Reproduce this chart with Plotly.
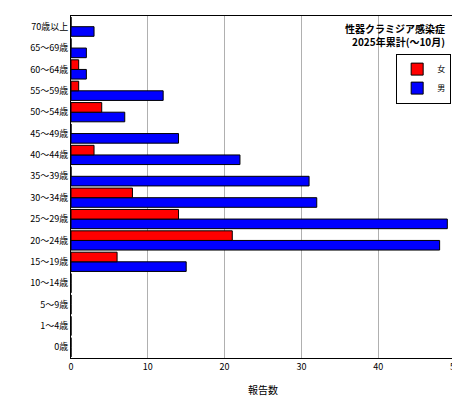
import plotly.graph_objects as go

categories = ["0歳","1～4歳","5～9歳","10～14歳","15～19歳","20～24歳","25～29歳","30～34歳",
              "35～39歳","40～44歳","45～49歳","50～54歳","55～59歳","60～64歳","65～69歳","70歳以上"]
female = [0,0,0,0,6,21,14,8,0,3,0,4,1,1,0,0]
male   = [0,0,0,0,15,48,49,32,31,22,14,7,12,2,2,3]

fig = go.Figure()
fig.add_trace(go.Bar(y=categories, x=male, orientation="h", name="男",
                     marker=dict(color="#0000ff", line=dict(color="black", width=1))))
fig.add_trace(go.Bar(y=categories, x=female, orientation="h", name="女",
                     marker=dict(color="#ff0000", line=dict(color="black", width=1))))
fig.update_layout(
    width=460, height=400, barmode="group", bargap=0.1, bargroupgap=0,
    paper_bgcolor="white", plot_bgcolor="white",
    margin=dict(l=63, r=13, t=8, b=50),
    font=dict(family="Noto Sans CJK JP", size=9, color="black"),
    xaxis=dict(range=[0,50], dtick=10, showgrid=True, gridcolor="#b0b0b0",
               showline=True, linecolor="black", mirror=True, ticks="",
               title=dict(text="報告数", font=dict(size=10)), zeroline=False, automargin=False),
    yaxis=dict(showline=True, linecolor="black", mirror=True, ticks="", automargin=False,
               categoryorder="array", categoryarray=categories),
    legend=dict(x=0.99, y=0.89, xanchor="right", yanchor="top", traceorder="reversed",
                bordercolor="black", borderwidth=1, bgcolor="white",
                font=dict(size=8), itemwidth=30, tracegroupgap=0),
    annotations=[dict(text="<b>性器クラミジア感染症<br>2025年累計(～10月)</b>", x=0.98, y=0.99,
                      xref="paper", yref="paper", xanchor="right", yanchor="top",
                      showarrow=False, align="right", font=dict(size=10))],
)
fig.write_html("out.html")
